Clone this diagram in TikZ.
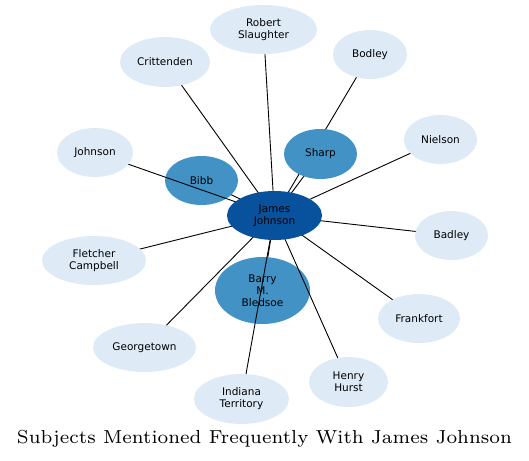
\documentclass[tikz,border=0pt]{standalone}
\usepackage{graphicx}
\usepackage{fontspec}
\newfontfamily\labelfont{DejaVu Sans}
\usetikzlibrary{shapes.geometric}
\definecolor{lightnode}{HTML}{DEEBF7}
\definecolor{midnode}{HTML}{4292C6}
\definecolor{darknode}{HTML}{08519C}
\pgfdeclarelayer{edgesA}
\pgfdeclarelayer{midlayer}
\pgfdeclarelayer{edgesB}
\pgfdeclarelayer{lightlayer}
\pgfsetlayers{edgesA,midlayer,edgesB,lightlayer,main}
\tikzset{
  bubble/.style={ellipse, inner sep=0pt, align=center, text=black,
    font=\labelfont\fontsize{10.5}{12}\selectfont},
  light/.style={bubble, fill=lightnode},
  mid/.style={bubble, fill=midnode},
  dark/.style={bubble, fill=darknode},
  link/.style={draw=black, line width=0.9pt},
}
\begin{document}
\begin{tikzpicture}[x=1pt,y=-1pt]
\useasboundingbox (0,0) rectangle (529,460);
\node[dark, minimum width=95pt, minimum height=49pt] (jj) at (274.5,215.5) {James\\Johnson};
\begin{pgfonlayer}{midlayer}
\node[mid, minimum width=73pt, minimum height=49pt] (bibb) at (201.5,180.5) {Bibb};
\node[mid, minimum width=73pt, minimum height=50pt] (sharp) at (320.5,154) {Sharp};
\node[mid, minimum width=95pt, minimum height=67pt] (bledsoe) at (262.5,290.5) {Barry\\M.\\Bledsoe};
\end{pgfonlayer}
\begin{pgfonlayer}{lightlayer}
\node[light, minimum width=107pt, minimum height=49pt] (slaughter) at (263.5,29.5) {Robert\\Slaughter};
\node[light, minimum width=74pt, minimum height=49pt] (bodley) at (370,54.5) {Bodley};
\node[light, minimum width=90pt, minimum height=50pt] (crittenden) at (165,62) {Crittenden};
\node[light, minimum width=76pt, minimum height=49pt] (johnson) at (95,152.5) {Johnson};
\node[light, minimum width=104pt, minimum height=49pt] (fletcher) at (94,260.5) {Fletcher\\Campbell};
\node[light, minimum width=73pt, minimum height=49pt] (nielson) at (440.5,139.5) {Nielson};
\node[light, minimum width=73pt, minimum height=49pt] (badley) at (451.5,235.5) {Badley};
\node[light, minimum width=103pt, minimum height=49pt] (georgetown) at (144.5,347.5) {Georgetown};
\node[light, minimum width=95pt, minimum height=50pt] (indiana) at (241.5,399) {Indiana\\Territory};
\node[light, minimum width=82pt, minimum height=49pt] (frankfort) at (419,318.5) {Frankfort};
\node[light, minimum width=79pt, minimum height=50pt] (hurst) at (348.5,382) {Henry\\Hurst};
\end{pgfonlayer}
\begin{pgfonlayer}{edgesA}
\draw[link] (jj.center) -- (bibb.center);
\draw[link] (jj.center) -- (sharp.center);
\draw[link] (jj.center) -- (bledsoe.center);
\draw[link] (jj.center) -- (bodley.center);
\end{pgfonlayer}
\begin{pgfonlayer}{edgesB}
\draw[link] (jj.center) -- (slaughter.center);
\draw[link] (jj.center) -- (crittenden.center);
\draw[link] (jj.center) -- (johnson.center);
\draw[link] (jj.center) -- (fletcher.center);
\draw[link] (jj.center) -- (nielson.center);
\draw[link] (jj.center) -- (badley.center);
\draw[link] (jj.center) -- (georgetown.center);
\draw[link] (jj.center) -- (indiana.center);
\draw[link] (jj.center) -- (frankfort.center);
\draw[link] (jj.center) -- (hurst.center);
\end{pgfonlayer}
\node[anchor=base, inner sep=0pt] (title) at (264.5,443) {\resizebox{495pt}{!}{\fontsize{7}{8}\selectfont Subjects Mentioned Frequently With James Johnson}};
\end{tikzpicture}
\end{document}
